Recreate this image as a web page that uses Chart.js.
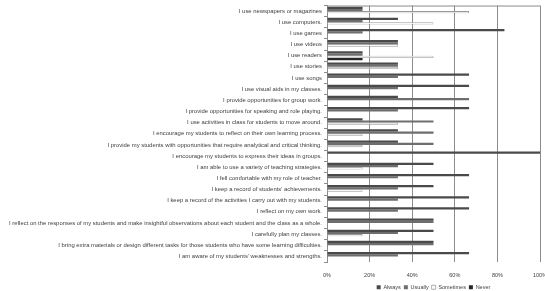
<!DOCTYPE html>
<html>
<head>
<meta charset="utf-8">
<script src="https://cdn.jsdelivr.net/npm/chart.js@4"></script>
<style>
  html, body { margin: 0; padding: 0; background: #fff; overflow: hidden; }
  canvas { display: block; }
</style>
</head>
<body>
<canvas id="chart" width="545" height="291"></canvas>
<script>
// ========== DATA ==========
const categories = [
  "I use newspapers or magazines",
  "I use computers.",
  "I use games",
  "I use videos",
  "I use readers",
  "I use stories",
  "I use songs",
  "I use visual aids in my classes.",
  "I provide opportunities for group work.",
  "I provide opportunities for speaking and role playing.",
  "I use activities in class for students to move around.",
  "I encourage my students to reflect on their own learning process.",
  "I provide my students with opportunities that require analytical and critical thinking.",
  "I encourage my students to express their ideas in groups.",
  "I am able to use a variety of teaching strategies.",
  "I fell comfortable with my role of teacher.",
  "I keep a record of students' achievements.",
  "I keep a record of the activities I carry out with my students.",
  "I reflect on my own work.",
  "I reflect on the responses of my students and make insightful observations about each student and the class as a whole.",
  "I carefully plan my classes.",
  "I bring extra materials or design different tasks for those students who have some learning difficulties.",
  "I am aware of my students' weaknesses and strengths."
];

const always    = [16.7, 33.3, 83.3, 33.3, 16.7, 33.3, 66.7, 66.7, 33.3, 66.7, 16.7, 33.3, 33.3, 100, 50, 66.7, 50, 66.7, 66.7, 50, 50, 50, 66.7];
const usually   = [16.7, 16.7, 16.7, 33.3, 16.7, 33.3, 33.3, 33.3, 66.7, 33.3, 50, 50, 50, 0, 33.3, 33.3, 33.3, 33.3, 33.3, 50, 33.3, 50, 33.3];
const sometimes = [66.7, 50, 0, 33.3, 50, 33.3, 0, 0, 0, 0, 33.3, 16.7, 16.7, 0, 16.7, 0, 16.7, 0, 0, 0, 16.7, 0, 0];
const never     = [0, 0, 0, 0, 16.7, 0, 0, 0, 0, 0, 0, 0, 0, 0, 0, 0, 0, 0, 0, 0, 0, 0, 0];

const xTicks = [0, 20, 40, 60, 80, 100];

// ========== CHART ==========
const FONT = "'Liberation Sans', Arial, sans-serif";
const TEXT = "#404040";

// thin line along the top of the plot area
const topBorder = {
  id: "topBorder",
  afterDraw(chart) {
    const { ctx, chartArea } = chart;
    ctx.save();
    ctx.strokeStyle = "#8c8c8c";
    ctx.lineWidth = 1;
    ctx.beginPath();
    ctx.moveTo(chartArea.left, chartArea.top + 0.5);
    ctx.lineTo(chartArea.right, chartArea.top + 0.5);
    ctx.stroke();
    ctx.restore();
  }
};

new Chart(document.getElementById("chart"), {
  type: "bar",
  data: {
    labels: categories,
    datasets: [
      { label: "Always", data: always, backgroundColor: "#4a4a4a", borderColor: "#4a4a4a", borderWidth: 0 },
      { label: "Usually", data: usually, backgroundColor: "#6e6e6e", borderColor: "#6e6e6e", borderWidth: 0 },
      { label: "Sometimes", data: sometimes, backgroundColor: "#ffffff", borderColor: "#9a9a9a", borderWidth: 0.8 },
      { label: "Never", data: never, backgroundColor: "#262626", borderColor: "#262626", borderWidth: 0 }
    ]
  },
  options: {
    indexAxis: "y",
    responsive: false,
    animation: false,
    // the legend keeps 10px of empty space under its row, pull it down
    layout: { padding: { top: 0, right: 0, left: 0, bottom: -9 } },
    datasets: { bar: { categoryPercentage: 0.8, barPercentage: 1 } },
    scales: {
      x: {
        min: 0,
        max: 100,
        afterBuildTicks(scale) { scale.ticks = xTicks.map(v => ({ value: v })); },
        afterFit(scale) {
          scale.height = 19.5;
          scale.paddingRight = 5;
        },
        grid: { color: "#8c8c8c", lineWidth: 1, drawTicks: false },
        border: { display: false },
        ticks: {
          color: TEXT,
          font: { family: FONT, size: 5.5 },
          padding: 10,
          maxRotation: 0,
          callback: v => v + "%"
        }
      },
      y: {
        afterFit(scale) { scale.width = 327; },
        grid: { display: true, drawOnChartArea: false, offset: true, tickLength: 3, color: "#8c8c8c" },
        border: { display: true, color: "#8c8c8c" },
        ticks: {
          color: TEXT,
          font: { family: FONT, size: 5.9 },
          padding: 2,
          autoSkip: false
        }
      }
    },
    plugins: {
      legend: {
        position: "bottom",
        fullSize: false,
        labels: {
          color: TEXT,
          font: { family: FONT, size: 5.5 },
          boxWidth: 4,
          boxHeight: 4,
          padding: 3
        }
      },
      tooltip: { enabled: false }
    }
  },
  plugins: [topBorder]
});
</script>
</body>
</html>
